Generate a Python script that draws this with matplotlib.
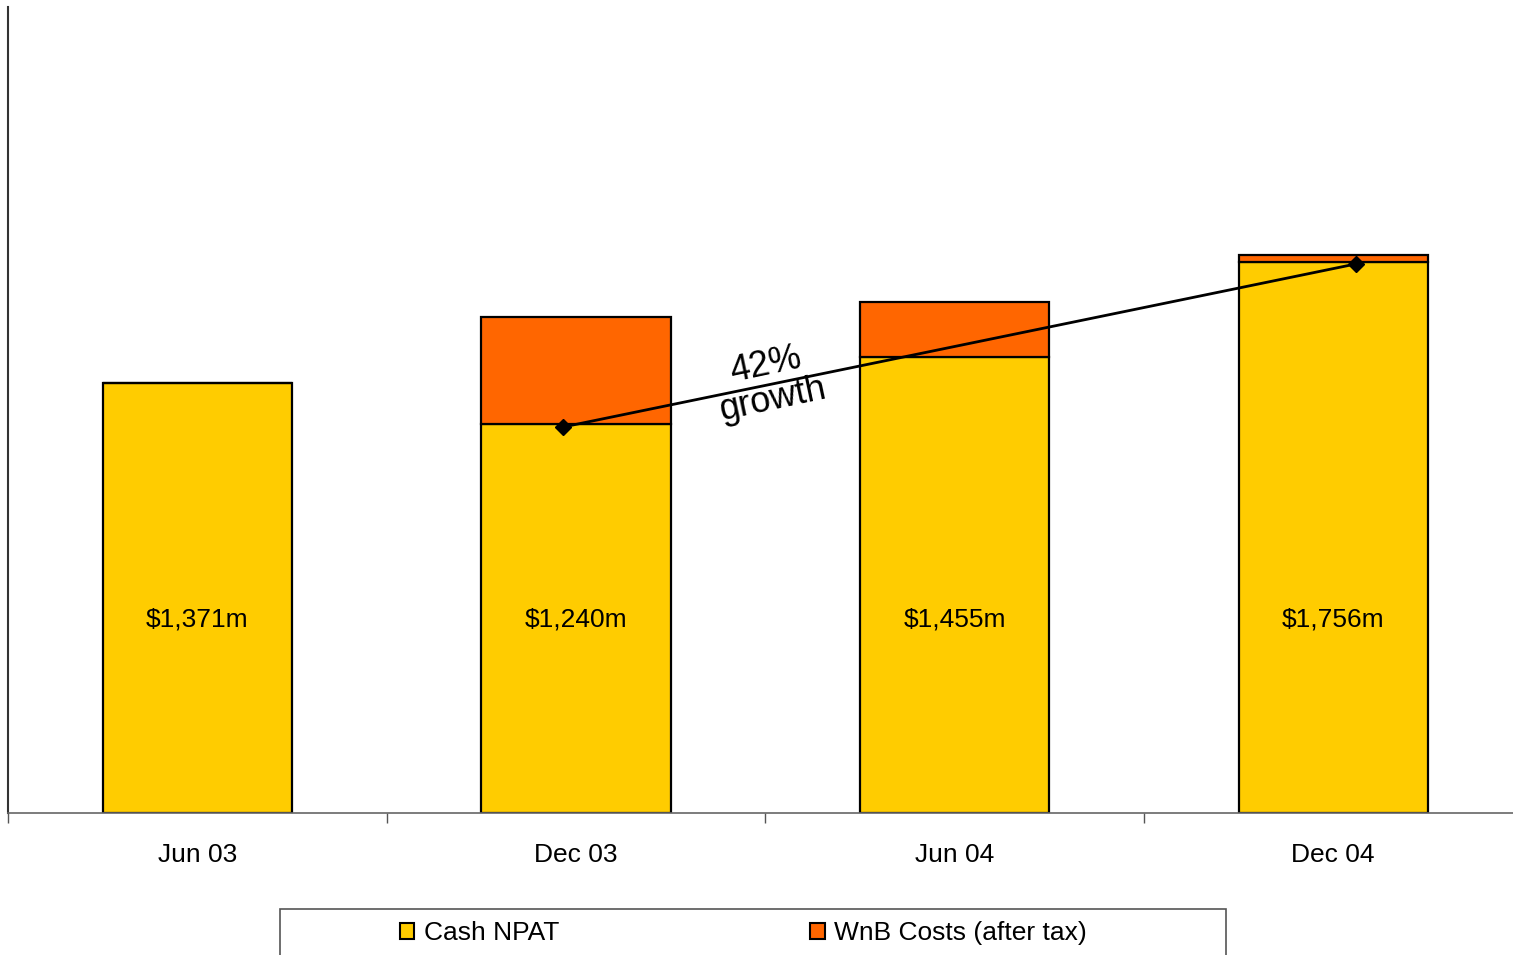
import matplotlib.pyplot as plt
from matplotlib.patches import Patch, Rectangle

plt.rcParams['font.family'] = ['Liberation Sans', 'DejaVu Sans']

# data ($m)
periods = ['Jun 03', 'Dec 03', 'Jun 04', 'Dec 04']
cash_npat = [1371, 1240, 1455, 1756]
wnb_costs = [0, 341, 175, 22]
bar_labels = ['$1,371m', '$1,240m', '$1,455m', '$1,756m']
growth_vals = [1230, 1750]

yellow = '#FFCC00'
orange = '#FF6600'

fig = plt.figure(figsize=(15.13, 9.55), dpi=100)
ax = fig.add_axes([8 / 1513, 142 / 955, 1505 / 1513, 806 / 955])

x = list(range(len(periods)))
ax.bar(x, cash_npat, width=0.5, color=yellow, edgecolor='black', linewidth=1.6, zorder=2)
ax.bar(x, wnb_costs, width=0.5, bottom=cash_npat, color=orange, edgecolor='black',
       linewidth=1.6, zorder=2)

for xi, lab in zip(x, bar_labels):
    ax.text(xi, 617, lab, ha='center', va='center', fontsize=19, zorder=3)

# growth line from Dec 03 to Dec 04
gx = [x[1] - 0.035, x[3] + 0.06]
ax.plot(gx, growth_vals, color='black', linewidth=2, marker='D', markersize=8, zorder=4)
ax.text(1.51, 1372, '42%\ngrowth', rotation=12, ha='center', va='center',
        fontsize=26, linespacing=1.0, zorder=4)

ax.set_xlim(-0.5, 3.475)
ax.set_ylim(0, 2569)
ax.set_xticks(x)
ax.set_xticklabels(periods, fontsize=19)
ax.tick_params(axis='x', which='major', length=0, pad=21.5)
ax.set_xticks([-0.5, 0.5, 1.5, 2.5], minor=True)
ax.tick_params(axis='x', which='minor', length=7, width=1, color='#555555')
ax.set_yticks([])
ax.spines['top'].set_visible(False)
ax.spines['right'].set_visible(False)
ax.spines['left'].set_color('#333333')
ax.spines['left'].set_linewidth(1.5)
ax.spines['bottom'].set_color('#666666')
ax.spines['bottom'].set_linewidth(1.2)

# legend box running off the bottom of the figure
fig.patches.append(Rectangle((280 / 1513, -0.05), 946 / 1513, 0.05 + 46 / 955,
                             transform=fig.transFigure, facecolor='white',
                             edgecolor='#555555', linewidth=1.2))
handles = [Patch(facecolor=yellow, edgecolor='black', linewidth=1.5),
           Patch(facecolor=orange, edgecolor='black', linewidth=1.5)]
fig.legend(handles, ['Cash NPAT', 'WnB Costs (after tax)'], ncol=2, frameon=False,
           loc='center left', bbox_to_anchor=(376 / 1513, 22 / 955), fontsize=19,
           handlelength=0.55, handleheight=0.55, handletextpad=0.35, columnspacing=9.52)

fig.savefig('out.png', dpi=100)
